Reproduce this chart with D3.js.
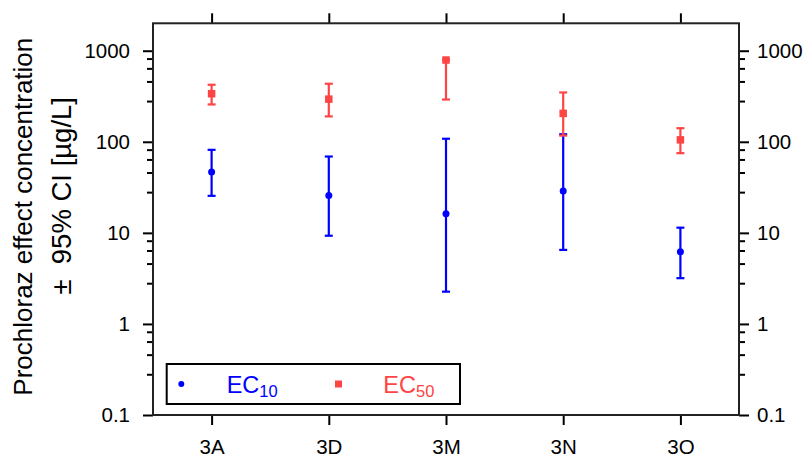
<!DOCTYPE html>
<html><head><meta charset="utf-8">
<script src="https://cdn.jsdelivr.net/npm/d3@7"></script>
<style>
html,body{margin:0;padding:0;background:#fff;}
text{font-family:"Liberation Sans",Arial,sans-serif;}
</style></head>
<body><svg id="chart" width="812" height="457"></svg>
<script>
const categories = ["3A","3D","3M","3N","3O"];
const ec10 = [46.5, 25.7, 16.2, 28.9, 6.2];
const ec10Low = [25.5, 9.3, 2.26, 6.5, 3.18];
const ec10High = [81.6, 68.9, 108, 121, 11.4];
const ec50 = [337, 294, 790, 205, 105];
const ec50Low = [257, 190, 291, 117, 75];
const ec50High = [423, 434, 800, 348, 141];
const yTicks = [0.1, 1, 10, 100, 1000];
const yMinorFactors = [2.8, 4.6, 6.4, 8.2];
const yDomain = [0.1, 2000];

const blue = "#0000ff", red = "#ff4444";
const svg = d3.select("#chart");
const L = 153, R = 739, T = 23.3, B = 415;
const x = d3.scalePoint().domain(categories).range([L, R]).padding(0.5);
const y = d3.scaleLog().domain(yDomain).range([B, T]);
const minor = [];
yTicks.forEach(d => yMinorFactors.forEach(f => { const v = d * f; if (v < yDomain[1]) minor.push(v); }));

function styleAxis(g){
  g.select(".domain").remove();
  g.selectAll(".tick line").attr("stroke","#000").attr("stroke-width",2);
  g.selectAll(".tick text").attr("font-size",20.5).attr("fill","#000").attr("font-family","Liberation Sans, Arial, sans-serif");
}
// minor ticks
svg.append("g").attr("transform",`translate(${L},0)`).call(d3.axisLeft(y).tickValues(minor).tickSize(6).tickFormat("")).call(styleAxis);
svg.append("g").attr("transform",`translate(${R},0)`).call(d3.axisRight(y).tickValues(minor).tickSize(6).tickFormat("")).call(styleAxis);
// major
svg.append("g").attr("transform",`translate(${L},0)`).call(d3.axisLeft(y).tickValues(yTicks).tickSize(10).tickPadding(13).tickFormat(d3.format("~g"))).call(styleAxis);
svg.append("g").attr("transform",`translate(${R},0)`).call(d3.axisRight(y).tickValues(yTicks).tickSize(10).tickPadding(8).tickFormat(d3.format("~g"))).call(styleAxis);
svg.append("g").attr("transform",`translate(0,${B})`).call(d3.axisBottom(x).tickSize(10).tickPadding(14)).call(styleAxis);
svg.append("g").attr("transform",`translate(0,${T})`).call(d3.axisTop(x).tickSize(10).tickFormat("")).call(styleAxis);

// frame
svg.append("rect").attr("x",L).attr("y",T).attr("width",R-L).attr("height",B-T)
  .attr("fill","none").attr("stroke","#222").attr("stroke-width",2);

// error bars
function errBars(vals, lo, hi, color){
  const g = svg.append("g").attr("stroke",color).attr("stroke-width",2.2);
  categories.forEach((c,i)=>{
    const cx = x(c);
    g.append("line").attr("x1",cx).attr("x2",cx).attr("y1",y(lo[i])).attr("y2",y(hi[i]));
    g.append("line").attr("x1",cx-4).attr("x2",cx+4).attr("y1",y(lo[i])).attr("y2",y(lo[i]));
    g.append("line").attr("x1",cx-4).attr("x2",cx+4).attr("y1",y(hi[i])).attr("y2",y(hi[i]));
  });
}
errBars(ec10, ec10Low, ec10High, blue);
errBars(ec50, ec50Low, ec50High, red);
svg.append("g").selectAll("circle").data(ec10).join("circle")
  .attr("cx",(d,i)=>x(categories[i])).attr("cy",d=>y(d)).attr("r",3.5).attr("fill",blue);
svg.append("g").selectAll("rect").data(ec50).join("rect")
  .attr("x",(d,i)=>x(categories[i])-3.75).attr("y",d=>y(d)-3.75).attr("width",7.5).attr("height",7.5).attr("fill",red);

// legend
svg.append("rect").attr("x",166.7).attr("y",364).attr("width",293.3).attr("height",40)
  .attr("fill","#fff").attr("stroke","#000").attr("stroke-width",2);
svg.append("circle").attr("cx",181.3).attr("cy",384).attr("r",3).attr("fill",blue);
svg.append("rect").attr("x",335).attr("y",380.5).attr("width",7).attr("height",7).attr("fill",red);
function legText(xp, sub, color){
  const t = svg.append("text").attr("x",xp).attr("y",393.3).attr("font-size",23.5).attr("fill",color);
  t.append("tspan").text("EC");
  t.append("tspan").attr("font-size",16.5).attr("dy",4).text(sub);
}
legText(226.7, "10", blue);
legText(383.3, "50", red);

// y title
const title = svg.append("g").attr("transform","rotate(-90)");
title.append("text").attr("x",-216.7).attr("y",32).attr("text-anchor","middle").attr("font-size",26).attr("fill","#000")
  .text("Prochloraz effect concentration");
title.append("text").attr("x",-97).attr("y",71).attr("text-anchor","end").attr("font-size",27.5).attr("fill","#000")
  .attr("xml:space","preserve").style("white-space","pre")
  .text("±  95% CI [µg/L]");
</script></body></html>
